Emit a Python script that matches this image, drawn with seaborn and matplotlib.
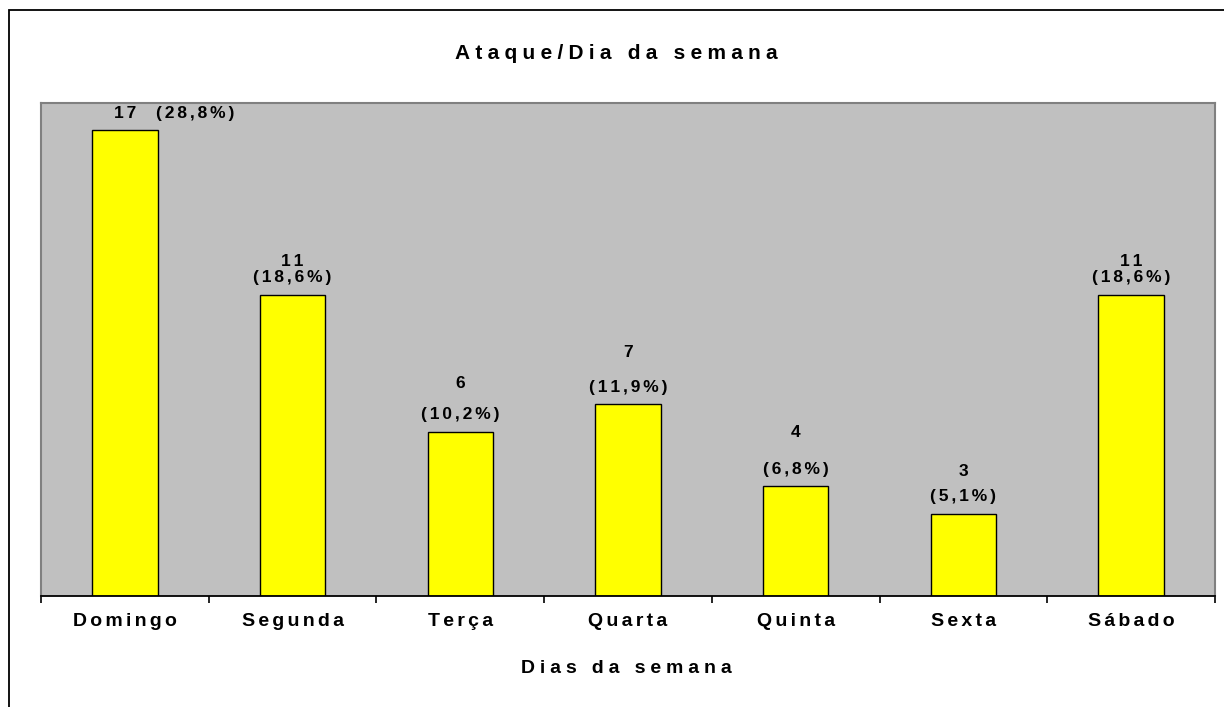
import matplotlib
matplotlib.use("Agg")
import matplotlib.pyplot as plt
import seaborn as sns
from matplotlib.patches import Rectangle
from matplotlib.ticker import FixedLocator

# Data
days = ['Domingo', 'Segunda', 'Terça', 'Quarta', 'Quinta', 'Sexta', 'Sábado']
counts = [17, 11, 6, 7, 4, 3, 11]
percents = [28.8, 18.6, 10.2, 11.9, 6.8, 5.1, 18.6]

# vertical gap (px) between bar top and the count label
count_gap = [17, 33, 48, 52, 54, 42, 33]

sns.set_style('white')
plt.rcParams['font.family'] = ['Liberation Sans', 'DejaVu Sans']
plt.rcParams['font.weight'] = 'bold'
plt.rcParams['text.color'] = 'black'
plt.rcParams['xtick.color'] = 'black'


def spaced(s, gap='\u2006'):
    # Excel-like loose letter spacing
    return gap.join(s)


fig = plt.figure(figsize=(12.24, 7.07), dpi=100)
ax = fig.add_axes([41 / 1224, 1 - 596 / 707, (1215 - 41) / 1224, (596 - 103) / 707])

# outer chart border
fig.patches.append(Rectangle((9 / 1224, -0.01), 1.0, 1 - 10 / 707 + 0.01,
                             transform=fig.transFigure, fill=False,
                             edgecolor='black', linewidth=1.3))

ax.set_facecolor('#C0C0C0')
sns.barplot(x=days, y=counts, color='#FFFF00', edgecolor='black',
            linewidth=1.0, width=0.39, saturation=1, ax=ax)

ax.set_xlim(-0.5, 6.5)
ax.set_ylim(0, 18)
ax.set_yticks([])
ax.set_ylabel('')

for side in ['top', 'left', 'right']:
    ax.spines[side].set_color('#808080')
    ax.spines[side].set_linewidth(1.5)
ax.spines['bottom'].set_color('black')
ax.spines['bottom'].set_linewidth(1.3)

ax.set_xticks(range(len(days)))
ax.set_xticklabels([spaced(d) for d in days], fontsize=14, fontweight='bold',
                   color='black')
ax.xaxis.set_minor_locator(FixedLocator([i - 0.5 for i in range(len(days) + 1)]))
ax.tick_params(axis='x', which='major', length=0, pad=12)
ax.tick_params(axis='x', which='minor', length=5, width=1.2, color='black',
               direction='out', bottom=True)
ax.set_xlabel('')

px = 0.72  # points per pixel at dpi 100
lab = dict(textcoords='offset points', ha='center', va='center',
           fontsize=12.5, fontweight='bold', color='black')
for i, bar in enumerate(ax.patches[:len(days)]):
    cx = bar.get_x() + bar.get_width() / 2
    top = bar.get_height()
    pct = '(' + f'{percents[i]:.1f}'.replace('.', ',') + '%)'
    if i == 0:
        ax.annotate(spaced(str(counts[i])), (cx, top),
                    xytext=(0, count_gap[i] * px), **lab)
        ax.annotate(spaced(pct), (cx, top),
                    xytext=(70 * px, count_gap[i] * px), **lab)
    else:
        ax.annotate(spaced(pct), (cx, top), xytext=(0, 17 * px), **lab)
        ax.annotate(spaced(str(counts[i])), (cx, top),
                    xytext=(0, count_gap[i] * px), **lab)

fig.text(616 / 1224, 1 - 59 / 707, spaced('Ataque/Dia da semana', '\u2005'),
         ha='center', va='baseline', fontsize=15, fontweight='bold')
fig.text(626 / 1224, 1 - 673 / 707, spaced('Dias da semana', '\u2005'),
         ha='center', va='baseline', fontsize=14, fontweight='bold')

fig.savefig('out.png', dpi=100)
